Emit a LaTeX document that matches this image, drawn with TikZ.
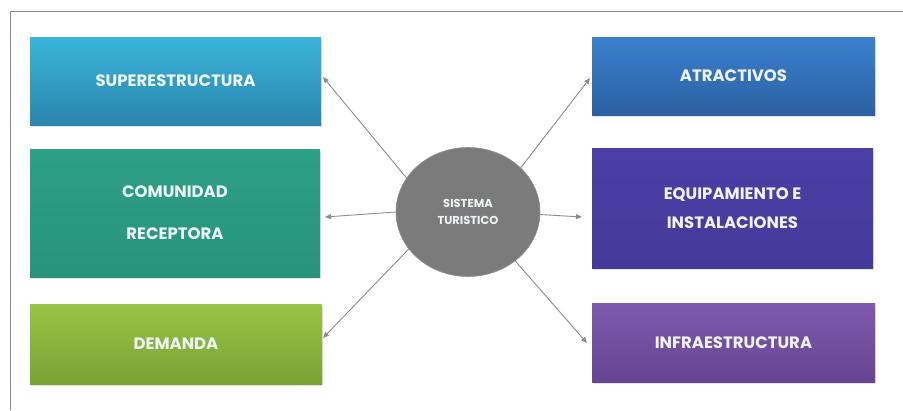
\documentclass[tikz,border=0pt]{standalone}
\usepackage{fontspec}
\setmainfont{Poppins}
\usetikzlibrary{arrows.meta,shapes.geometric,shadows}
\definecolor{frame}{HTML}{8A8A8A}
\definecolor{arrowc}{HTML}{8C8C8C}
\definecolor{supT}{HTML}{3AB4D8}
\definecolor{supB}{HTML}{2A86AE}
\definecolor{comT}{HTML}{2DA086}
\definecolor{comB}{HTML}{28937A}
\definecolor{demT}{HTML}{98C446}
\definecolor{demB}{HTML}{78A334}
\definecolor{atrT}{HTML}{3B82CE}
\definecolor{atrB}{HTML}{2B60A2}
\definecolor{equT}{HTML}{4B3FA6}
\definecolor{equB}{HTML}{45399A}
\definecolor{infT}{HTML}{8059AE}
\definecolor{infB}{HTML}{664592}
\definecolor{circ}{HTML}{7B7B7B}
\definecolor{txt}{HTML}{EEF4F6}
\tikzset{
  box/.style={rectangle, inner sep=0pt, align=center, text=txt,
    font=\fontsize{16.5}{29}\selectfont\bfseries,
    drop shadow={opacity=0.22, shadow xshift=1pt, shadow yshift=-2pt}},
  conn/.style={draw=arrowc, line width=0.9pt, -{Triangle[length=6pt,width=5pt]}}
}
\begin{document}
\begin{tikzpicture}[x=1pt,y=-1pt]
\useasboundingbox (0,0) rectangle (903,410);
\fill[white] (0,0) rectangle (903,410);
\draw[frame, line width=1pt] (10,410) -- (10,11) -- (903,11);

\node[box, minimum width=291pt, minimum height=88pt, top color=supT, bottom color=supB] (sup) at (175.5,81) {SUPERESTRUCTURA};
\node[box, minimum width=290pt, minimum height=128pt, top color=comT, bottom color=comB,
  font=\fontsize{16.5}{42}\selectfont\bfseries] (com) at (175,213) {COMUNIDAD\\RECEPTORA};
\node[box, minimum width=292pt, minimum height=80pt, top color=demT, bottom color=demB] (dem) at (176,344) {DEMANDA};
\node[box, minimum width=283pt, minimum height=78pt, top color=atrT, bottom color=atrB] (atr) at (733.5,76) {ATRACTIVOS};
\node[box, minimum width=281pt, minimum height=120pt, top color=equT, bottom color=equB] (equ) at (732.5,208) {EQUIPAMIENTO E\\INSTALACIONES};
\node[box, minimum width=283pt, minimum height=79pt, top color=infT, bottom color=infB] (inf) at (733.5,342.5) {INFRAESTRUCTURA};

\node[ellipse, fill=circ, draw=circ!85!white, line width=0.6pt, minimum width=144pt, minimum height=129pt, inner sep=0pt,
  text=txt, align=center, font=\fontsize{11.5}{17}\selectfont\bfseries] (c) at (468,212) {SISTEMA\\TURISTICO};

\coordinate (tUL) at (323,77);
\coordinate (tL) at (325,217);
\coordinate (tLL) at (323,338);
\coordinate (tUR) at (590,78);
\coordinate (tR) at (582,217);
\coordinate (tLR) at (587,343);

\draw[conn] (c.151) -- (tUL);
\draw[conn] (c.180) -- (tL);
\draw[conn] (c.212) -- (tLL);
\draw[conn] (c.40) -- (tUR);
\draw[conn] (c.358) -- (tR);
\draw[conn] (c.314) -- (tLR);
\end{tikzpicture}
\end{document}
